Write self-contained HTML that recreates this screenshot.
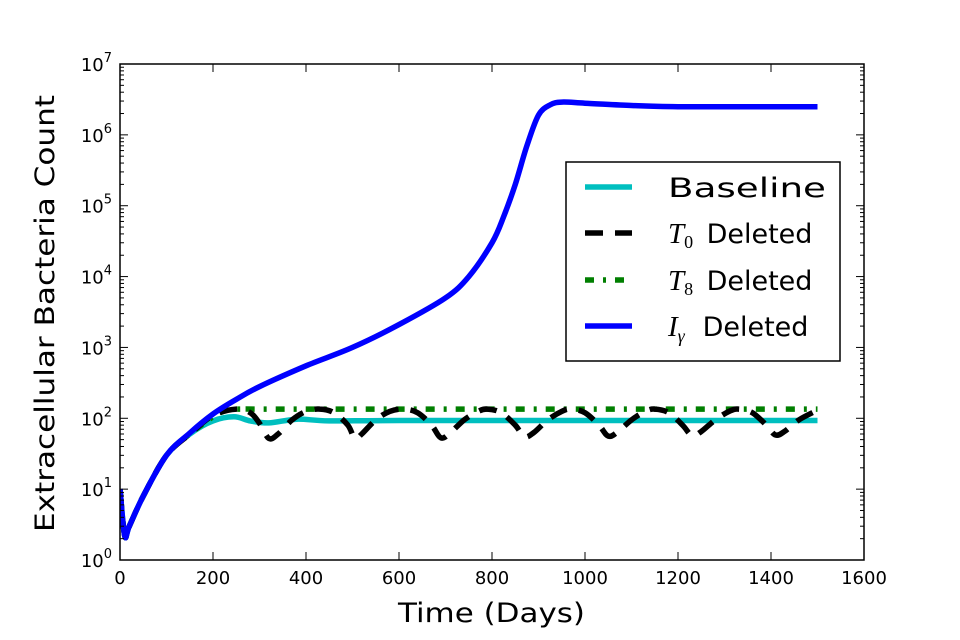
<!DOCTYPE html>
<html><head><meta charset="utf-8"><style>
body{margin:0;background:#fff}
svg{display:block;font-family:"DejaVu Sans","Liberation Sans",sans-serif}
</style></head><body>
<svg id="chart" width="960" height="640" viewBox="0 0 960 640"></svg>
<script>
const baseDays=[0,10,20,50,100,150,200,245,280,320,380,450,600,1000,1500];
const baseVals=[10,2.2,3,8,30,60,92,105,92,86,97,92,93,93,93];
const t8Days=[0,10,20,50,100,150,200,230,260,400,1500];
const t8Vals=[10,2.2,3,8,30,60,105,130,135,135,135];
const t0Days=[0,10,20,50,100,150,200,250,280,300,320,340,370,400,430,460,490,505,520,550,580,610,640,670,690,710,740,770,790,820,850,870,890,920,950,970,1000,1030,1050,1070,1100,1130,1150,1180,1210,1230,1250,1280,1310,1330,1360,1390,1410,1430,1460,1500];
const t0Vals=[10,2.2,3,8,30,60,110,135,120,85,52,60,95,125,135,120,80,52,60,95,125,135,120,80,53,62,95,125,135,120,80,55,63,95,125,135,120,80,56,64,95,125,135,120,80,57,65,95,125,135,120,80,58,66,95,130];
const igDays=[0,10,20,50,100,150,200,250,300,400,500,600,700,750,800,825,850,875,900,925,950,1000,1100,1200,1500];
const igVals=[10,2.2,3,8,30,62,115,185,280,550,1000,2100,5000,10000,30000,70000,200000,700000,1900000,2650000,2900000,2800000,2600000,2500000,2500000];
const xTicks=[0,200,400,600,800,1000,1200,1400,1600];
const yExps=[0,1,2,3,4,5,6,7];
const L=120,R=864,T=64,B=560;
const xs=d=>L+(d/1600)*(R-L);
const ys=v=>B-(Math.log10(v)/7)*(B-T);
const svg=document.getElementById('chart');
const NS='http://www.w3.org/2000/svg';
function mk(tag,at,parent){const e=document.createElementNS(NS,tag);for(const k in at)e.setAttribute(k,at[k]);(parent||svg).appendChild(e);return e;}
mk('rect',{x:0,y:0,width:960,height:640,fill:'#fff'});
const clip=mk('clipPath',{id:'pc'});mk('rect',{x:L,y:T,width:R-L,height:B-T},clip);
function smooth(pts){
  let d='M'+pts[0][0].toFixed(1)+','+pts[0][1].toFixed(1);
  for(let i=0;i<pts.length-1;i++){
    const p0=pts[Math.max(0,i-1)],p1=pts[i],p2=pts[i+1],p3=pts[Math.min(pts.length-1,i+2)];
    const c1=[p1[0]+(p2[0]-p0[0])/6,p1[1]+(p2[1]-p0[1])/6];
    const c2=[p2[0]-(p3[0]-p1[0])/6,p2[1]-(p3[1]-p1[1])/6];
    d+='C'+c1.map(v=>v.toFixed(1)).join(',')+' '+c2.map(v=>v.toFixed(1)).join(',')+' '+p2.map(v=>v.toFixed(1)).join(',');
  }
  return d;
}
function series(days,vals,style,name){
  const pts=days.map((d,i)=>[xs(d),ys(vals[i])]);
  const p=mk('path',Object.assign({d:smooth(pts),fill:'none','stroke-width':5.5,'stroke-linejoin':'round','clip-path':'url(#pc)'},style));
  
  
}
series(baseDays,baseVals,{stroke:'#00bfbf'},'baseline-line');
series(t8Days,t8Vals,{stroke:'#007f00','stroke-dasharray':'9,9,3,9'},'t8-deleted-line');
series(t0Days,t0Vals,{stroke:'#000','stroke-dasharray':'18,12'},'t0-deleted-line');
series(igDays,igVals,{stroke:'#0000ff'},'igamma-deleted-line');
mk('rect',{x:L,y:T,width:R-L,height:B-T,fill:'none',stroke:'#000','stroke-width':1.5});
xTicks.forEach(t=>{const x=xs(t);
  mk('line',{x1:x,x2:x,y1:B,y2:B-8,stroke:'#000'});mk('line',{x1:x,x2:x,y1:T,y2:T+8,stroke:'#000'});
  const tx=mk('text',{x:x,y:B+24,'text-anchor':'middle','font-size':18});tx.textContent=t;
  
  
});
yExps.forEach(e=>{const y=ys(Math.pow(10,e));
  mk('line',{x1:L,x2:L+8,y1:y,y2:y,stroke:'#000'});mk('line',{x1:R,x2:R-8,y1:y,y2:y,stroke:'#000'});
  if(e<7)for(let m=2;m<10;m++){const yy=ys(m*Math.pow(10,e));mk('line',{x1:L,x2:L+4,y1:yy,y2:yy,stroke:'#000'});mk('line',{x1:R,x2:R-4,y1:yy,y2:yy,stroke:'#000'});}
  const tx=mk('text',{x:L-8,y:y+7,'text-anchor':'end','font-size':18});
  tx.innerHTML='10<tspan dy="-9" font-size="13">'+e+'</tspan>';
  
  
});
</script>
<svg style="position:absolute;left:0;top:0" width="960" height="640" font-family="DejaVu Sans, Liberation Sans, sans-serif">
<text x="398" y="622" textLength="187" lengthAdjust="spacingAndGlyphs" font-size="27">Time (Days)</text>
<text transform="translate(54,532) rotate(-90)" textLength="437" lengthAdjust="spacingAndGlyphs" font-size="27">Extracellular Bacteria Count</text>
<g font-size="27">
<rect x="566" y="162" width="274" height="199" fill="#fff" stroke="#000" stroke-width="1.5"/>
<line x1="585" x2="632" y1="187" y2="187" stroke="#00bfbf" stroke-width="5.5"/>
<text x="668" y="197" textLength="158" lengthAdjust="spacingAndGlyphs">Baseline</text>
<line x1="585" x2="632" y1="233" y2="233" stroke="#000" stroke-width="5.5" stroke-dasharray="18,12"/>
<text x="668" y="243"><tspan font-family="Liberation Serif" font-style="italic" font-size="29">T</tspan><tspan font-family="Liberation Serif" font-size="18" dy="5">0</tspan><tspan dy="-5" x="698"> Deleted</tspan></text>
<line x1="585" x2="632" y1="280" y2="280" stroke="#007f00" stroke-width="5.5" stroke-dasharray="9,9,3,9"/>
<text x="668" y="290"><tspan font-family="Liberation Serif" font-style="italic" font-size="29">T</tspan><tspan font-family="Liberation Serif" font-size="18" dy="5">8</tspan><tspan dy="-5" x="698"> Deleted</tspan></text>
<line x1="585" x2="632" y1="326" y2="326" stroke="#0000ff" stroke-width="5.5"/>
<text x="668" y="336"><tspan font-family="Liberation Serif" font-style="italic" font-size="29">I</tspan><tspan font-family="Liberation Serif" font-style="italic" font-size="18" dy="6">γ</tspan><tspan dy="-6" x="694"> Deleted</tspan></text>
</g>
</svg>
</body></html>
